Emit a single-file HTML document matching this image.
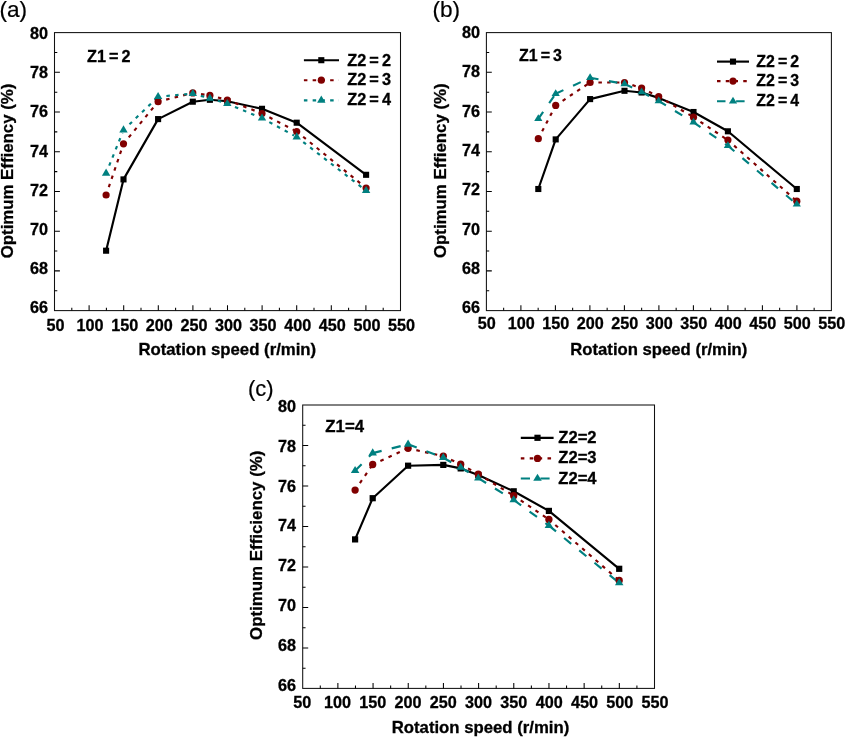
<!DOCTYPE html>
<html><head><meta charset="utf-8"><title>Optimum efficiency vs rotation speed</title>
<style>
html,body{margin:0;padding:0;background:#fff;}
body{width:846px;height:737px;overflow:hidden;}
svg{display:block;will-change:transform;filter:contrast(1);}
text{font-family:"Liberation Sans",sans-serif;fill:#000;font-variant-ligatures:none;font-kerning:none;}
.b{font-weight:bold;stroke:#000;stroke-width:0.3px;}
</style></head><body>
<svg width="846" height="737" viewBox="0 0 846 737">
<rect width="846" height="737" fill="#fff"/>
<rect x="54.5" y="32.6" width="346.00" height="278.00" fill="none" stroke="#111" stroke-width="1.05"/>
<path d="M71.80 310.6v-2.80 M89.10 310.6v-5.40 M106.40 310.6v-2.80 M123.70 310.6v-5.40 M141.00 310.6v-2.80 M158.30 310.6v-5.40 M175.60 310.6v-2.80 M192.90 310.6v-5.40 M210.20 310.6v-2.80 M227.50 310.6v-5.40 M244.80 310.6v-2.80 M262.10 310.6v-5.40 M279.40 310.6v-2.80 M296.70 310.6v-5.40 M314.00 310.6v-2.80 M331.30 310.6v-5.40 M348.60 310.6v-2.80 M365.90 310.6v-5.40 M383.20 310.6v-2.80 M54.5 290.74h2.80 M54.5 270.89h5.40 M54.5 251.03h2.80 M54.5 231.17h5.40 M54.5 211.31h2.80 M54.5 191.46h5.40 M54.5 171.60h2.80 M54.5 151.74h5.40 M54.5 131.89h2.80 M54.5 112.03h5.40 M54.5 92.17h2.80 M54.5 72.31h5.40 M54.5 52.46h2.80" stroke="#000" stroke-width="1.05" fill="none"/>
<g class="b" font-size="16.2" text-anchor="middle">
<text x="55.50" y="330.8">50</text>
<text x="90.10" y="330.8">100</text>
<text x="124.70" y="330.8">150</text>
<text x="159.30" y="330.8">200</text>
<text x="193.90" y="330.8">250</text>
<text x="228.50" y="330.8">300</text>
<text x="263.10" y="330.8">350</text>
<text x="297.70" y="330.8">400</text>
<text x="332.30" y="330.8">450</text>
<text x="366.90" y="330.8">500</text>
<text x="401.50" y="330.8">550</text>
</g>
<g class="b" font-size="16.2" text-anchor="end">
<text x="47.9" y="39.00">80</text>
<text x="47.9" y="78.18">78</text>
<text x="47.9" y="117.36">76</text>
<text x="47.9" y="156.54">74</text>
<text x="47.9" y="195.72">72</text>
<text x="47.9" y="234.90">70</text>
<text x="47.9" y="274.08">68</text>
<text x="47.9" y="313.26">66</text>
</g>
<text x="227.3" y="354.7" text-anchor="middle" class="b" font-size="16.3" textLength="177.8" lengthAdjust="spacingAndGlyphs">Rotation speed (r/min)</text>
<text transform="translate(12.6 171) rotate(-90)" text-anchor="middle" class="b" font-size="16.4" textLength="174.6" lengthAdjust="spacingAndGlyphs">Optimum Effiency (%)</text>
<text x="-0.5" y="17.3" font-size="22.6" stroke="#000" stroke-width="0.2">(a)</text>
<text x="87" y="61.8" class="b" font-size="16.3" textLength="43.6" lengthAdjust="spacingAndGlyphs" word-spacing="-1.4">Z1 = 2</text>
<polyline points="106.1,250.7 123.5,179.4 158.1,119.1 192.8,101.7 209.9,99.8 227.3,101.2 262.0,108.8 296.7,122.7 366.1,174.8" fill="none" stroke="#000" stroke-width="2.15" stroke-linejoin="round"/>
<path d="M108.77 187.14L122.53 146.64" fill="none" stroke="#800000" stroke-width="2.15" stroke-dasharray="3.50 5.25"/><path d="M128.77 137.39L156.20 104.02" fill="none" stroke="#800000" stroke-width="2.15" stroke-dasharray="3.50 5.25"/><path d="M166.15 99.66L189.89 93.64" fill="none" stroke="#800000" stroke-width="2.15" stroke-dasharray="3.50 5.25"/><path d="M201.01 94.10L206.93 94.97" fill="none" stroke="#800000" stroke-width="2.15" stroke-dasharray="3.50 5.25"/><path d="M217.92 97.52L224.40 99.23" fill="none" stroke="#800000" stroke-width="2.15" stroke-dasharray="3.50 5.25"/><path d="M235.04 103.01L259.20 112.41" fill="none" stroke="#800000" stroke-width="2.15" stroke-dasharray="3.50 5.25"/><path d="M269.37 117.32L294.04 130.12" fill="none" stroke="#800000" stroke-width="2.15" stroke-dasharray="3.50 5.25"/><path d="M303.14 136.74L363.77 186.11" fill="none" stroke="#800000" stroke-width="2.15" stroke-dasharray="3.50 5.25"/>
<path d="M109.19 165.70L122.38 132.88" fill="none" stroke="#008080" stroke-width="2.15" stroke-dasharray="3.50 5.25"/><path d="M129.47 124.34L155.94 98.78" fill="none" stroke="#008080" stroke-width="2.15" stroke-dasharray="3.50 5.25"/><path d="M166.37 95.99L189.81 93.96" fill="none" stroke="#008080" stroke-width="2.15" stroke-dasharray="3.50 5.25"/><path d="M200.80 95.90L207.01 97.60" fill="none" stroke="#008080" stroke-width="2.15" stroke-dasharray="3.50 5.25"/><path d="M217.84 100.82L224.43 102.83" fill="none" stroke="#008080" stroke-width="2.15" stroke-dasharray="3.50 5.25"/><path d="M234.96 106.90L259.23 117.04" fill="none" stroke="#008080" stroke-width="2.15" stroke-dasharray="3.50 5.25"/><path d="M269.30 122.15L294.06 135.57" fill="none" stroke="#008080" stroke-width="2.15" stroke-dasharray="3.50 5.25"/><path d="M303.26 142.08L363.73 188.86" fill="none" stroke="#008080" stroke-width="2.15" stroke-dasharray="3.50 5.25"/>
<rect x="103.05" y="247.65" width="6.1" height="6.1" fill="#000"/>
<rect x="120.45" y="176.35" width="6.1" height="6.1" fill="#000"/>
<rect x="155.05" y="116.05" width="6.1" height="6.1" fill="#000"/>
<rect x="189.75" y="98.65" width="6.1" height="6.1" fill="#000"/>
<rect x="206.85" y="96.75" width="6.1" height="6.1" fill="#000"/>
<rect x="224.25" y="98.15" width="6.1" height="6.1" fill="#000"/>
<rect x="258.95" y="105.75" width="6.1" height="6.1" fill="#000"/>
<rect x="293.65" y="119.65" width="6.1" height="6.1" fill="#000"/>
<rect x="363.05" y="171.75" width="6.1" height="6.1" fill="#000"/>
<circle cx="106.10" cy="195.00" r="3.6" fill="#800000"/>
<circle cx="123.50" cy="143.80" r="3.6" fill="#800000"/>
<circle cx="158.10" cy="101.70" r="3.6" fill="#800000"/>
<circle cx="192.80" cy="92.90" r="3.6" fill="#800000"/>
<circle cx="209.90" cy="95.40" r="3.6" fill="#800000"/>
<circle cx="227.30" cy="100.00" r="3.6" fill="#800000"/>
<circle cx="262.00" cy="113.50" r="3.6" fill="#800000"/>
<circle cx="296.70" cy="131.50" r="3.6" fill="#800000"/>
<circle cx="366.10" cy="188.00" r="3.6" fill="#800000"/>
<path d="M106.10 168.60L110.30 175.80L101.90 175.80Z" fill="#008080"/>
<path d="M123.50 125.30L127.70 132.50L119.30 132.50Z" fill="#008080"/>
<path d="M158.10 91.90L162.30 99.10L153.90 99.10Z" fill="#008080"/>
<path d="M192.80 88.90L197.00 96.10L188.60 96.10Z" fill="#008080"/>
<path d="M209.90 93.60L214.10 100.80L205.70 100.80Z" fill="#008080"/>
<path d="M227.30 98.90L231.50 106.10L223.10 106.10Z" fill="#008080"/>
<path d="M262.00 113.40L266.20 120.60L257.80 120.60Z" fill="#008080"/>
<path d="M296.70 132.20L300.90 139.40L292.50 139.40Z" fill="#008080"/>
<path d="M366.10 185.90L370.30 193.10L361.90 193.10Z" fill="#008080"/>
<line x1="303.9" y1="60.2" x2="339" y2="60.2" stroke="#000" stroke-width="2.15"/>
<rect x="318.25" y="57.15" width="6.1" height="6.1" fill="#000"/>
<text x="347.2" y="65.6" class="b" font-size="16.4" textLength="43.8" lengthAdjust="spacingAndGlyphs" word-spacing="-1.4">Z2 = 2</text>
<line x1="303.9" y1="80.2" x2="339" y2="80.2" stroke="#800000" stroke-width="2.15" stroke-dasharray="3.50 5.25"/>
<circle cx="321.30" cy="80.20" r="3.6" fill="#800000"/>
<text x="347.2" y="85.4" class="b" font-size="16.4" textLength="43.8" lengthAdjust="spacingAndGlyphs" word-spacing="-1.4">Z2 = 3</text>
<line x1="303.9" y1="100.3" x2="339" y2="100.3" stroke="#008080" stroke-width="2.15" stroke-dasharray="3.50 5.25"/>
<path d="M321.30 95.50L325.50 102.70L317.10 102.70Z" fill="#008080"/>
<text x="347.2" y="105.3" class="b" font-size="16.4" textLength="43.8" lengthAdjust="spacingAndGlyphs" word-spacing="-1.4">Z2 = 4</text>
<rect x="486.4" y="32.6" width="345.00" height="278.00" fill="none" stroke="#111" stroke-width="1.05"/>
<path d="M503.65 310.6v-2.80 M520.90 310.6v-5.40 M538.15 310.6v-2.80 M555.40 310.6v-5.40 M572.65 310.6v-2.80 M589.90 310.6v-5.40 M607.15 310.6v-2.80 M624.40 310.6v-5.40 M641.65 310.6v-2.80 M658.90 310.6v-5.40 M676.15 310.6v-2.80 M693.40 310.6v-5.40 M710.65 310.6v-2.80 M727.90 310.6v-5.40 M745.15 310.6v-2.80 M762.40 310.6v-5.40 M779.65 310.6v-2.80 M796.90 310.6v-5.40 M814.15 310.6v-2.80 M486.4 290.74h2.80 M486.4 270.89h5.40 M486.4 251.03h2.80 M486.4 231.17h5.40 M486.4 211.31h2.80 M486.4 191.46h5.40 M486.4 171.60h2.80 M486.4 151.74h5.40 M486.4 131.89h2.80 M486.4 112.03h5.40 M486.4 92.17h2.80 M486.4 72.31h5.40 M486.4 52.46h2.80" stroke="#000" stroke-width="1.05" fill="none"/>
<g class="b" font-size="16.2" text-anchor="middle">
<text x="486.80" y="328.7">50</text>
<text x="521.30" y="328.7">100</text>
<text x="555.80" y="328.7">150</text>
<text x="590.30" y="328.7">200</text>
<text x="624.80" y="328.7">250</text>
<text x="659.30" y="328.7">300</text>
<text x="693.80" y="328.7">350</text>
<text x="728.30" y="328.7">400</text>
<text x="762.80" y="328.7">450</text>
<text x="797.30" y="328.7">500</text>
<text x="831.80" y="328.7">550</text>
</g>
<g class="b" font-size="16.2" text-anchor="end">
<text x="480.1" y="38.00">80</text>
<text x="480.1" y="77.32">78</text>
<text x="480.1" y="116.64">76</text>
<text x="480.1" y="155.96">74</text>
<text x="480.1" y="195.28">72</text>
<text x="480.1" y="234.60">70</text>
<text x="480.1" y="273.92">68</text>
<text x="480.1" y="313.24">66</text>
</g>
<text x="658.8" y="354.5" text-anchor="middle" class="b" font-size="16.3" textLength="177.0" lengthAdjust="spacingAndGlyphs">Rotation speed (r/min)</text>
<text transform="translate(446.2 170.7) rotate(-90)" text-anchor="middle" class="b" font-size="16.4" textLength="174.6" lengthAdjust="spacingAndGlyphs">Optimum Effiency (%)</text>
<text x="432.4" y="17.3" font-size="22.6" stroke="#000" stroke-width="0.2">(b)</text>
<text x="519" y="61" class="b" font-size="16.3" textLength="43" lengthAdjust="spacingAndGlyphs" word-spacing="-1.4">Z1 = 3</text>
<polyline points="538.3,189.0 555.7,139.4 590.1,99.1 624.5,90.8 641.6,92.5 658.7,97.9 693.5,112.0 727.9,131.3 796.8,189.0" fill="none" stroke="#000" stroke-width="2.15" stroke-linejoin="round"/>
<path d="M542.14 131.34L554.31 108.06" fill="none" stroke="#800000" stroke-width="2.15" stroke-dasharray="3.50 5.25"/><path d="M562.61 100.80L587.60 84.16" fill="none" stroke="#800000" stroke-width="2.15" stroke-dasharray="3.50 5.25"/><path d="M598.40 82.50L621.50 82.50" fill="none" stroke="#800000" stroke-width="2.15" stroke-dasharray="3.50 5.25"/><path d="M632.39 85.08L638.75 87.17" fill="none" stroke="#800000" stroke-width="2.15" stroke-dasharray="3.50 5.25"/><path d="M649.03 91.79L656.01 95.26" fill="none" stroke="#800000" stroke-width="2.15" stroke-dasharray="3.50 5.25"/><path d="M665.84 100.83L690.92 115.67" fill="none" stroke="#800000" stroke-width="2.15" stroke-dasharray="3.50 5.25"/><path d="M700.41 121.80L725.40 138.44" fill="none" stroke="#800000" stroke-width="2.15" stroke-dasharray="3.50 5.25"/><path d="M734.11 145.61L794.56 199.21" fill="none" stroke="#800000" stroke-width="2.15" stroke-dasharray="3.50 5.25"/>
<path d="M538.30 118.80L555.70 93.70" fill="none" stroke="#008080" stroke-width="2.15" stroke-dasharray="8.50 10.60"/><path d="M555.70 93.70L590.10 77.80" fill="none" stroke="#008080" stroke-width="2.15" stroke-dasharray="8.50 10.60"/><path d="M590.10 77.80L624.50 83.90" fill="none" stroke="#008080" stroke-width="2.15" stroke-dasharray="8.50 10.60"/><path d="M624.50 83.90L641.60 92.00" fill="none" stroke="#008080" stroke-width="2.15" stroke-dasharray="8.50 10.60"/><path d="M641.60 92.00L658.70 101.00" fill="none" stroke="#008080" stroke-width="2.15" stroke-dasharray="8.50 10.60"/><path d="M658.70 101.00L693.50 122.30" fill="none" stroke="#008080" stroke-width="2.15" stroke-dasharray="8.50 10.60"/><path d="M693.50 122.30L727.90 145.70" fill="none" stroke="#008080" stroke-width="2.15" stroke-dasharray="8.50 10.60"/><path d="M727.90 145.70L796.80 204.30" fill="none" stroke="#008080" stroke-width="2.15" stroke-dasharray="8.50 10.60"/>
<rect x="535.25" y="185.95" width="6.1" height="6.1" fill="#000"/>
<rect x="552.65" y="136.35" width="6.1" height="6.1" fill="#000"/>
<rect x="587.05" y="96.05" width="6.1" height="6.1" fill="#000"/>
<rect x="621.45" y="87.75" width="6.1" height="6.1" fill="#000"/>
<rect x="638.55" y="89.45" width="6.1" height="6.1" fill="#000"/>
<rect x="655.65" y="94.85" width="6.1" height="6.1" fill="#000"/>
<rect x="690.45" y="108.95" width="6.1" height="6.1" fill="#000"/>
<rect x="724.85" y="128.25" width="6.1" height="6.1" fill="#000"/>
<rect x="793.75" y="185.95" width="6.1" height="6.1" fill="#000"/>
<circle cx="538.30" cy="138.70" r="3.6" fill="#800000"/>
<circle cx="555.70" cy="105.40" r="3.6" fill="#800000"/>
<circle cx="590.10" cy="82.50" r="3.6" fill="#800000"/>
<circle cx="624.50" cy="82.50" r="3.6" fill="#800000"/>
<circle cx="641.60" cy="88.10" r="3.6" fill="#800000"/>
<circle cx="658.70" cy="96.60" r="3.6" fill="#800000"/>
<circle cx="693.50" cy="117.20" r="3.6" fill="#800000"/>
<circle cx="727.90" cy="140.10" r="3.6" fill="#800000"/>
<circle cx="796.80" cy="201.20" r="3.6" fill="#800000"/>
<path d="M538.30 114.27L542.40 121.07L534.20 121.07Z" fill="#008080"/>
<path d="M555.70 89.17L559.80 95.97L551.60 95.97Z" fill="#008080"/>
<path d="M590.10 73.27L594.20 80.07L586.00 80.07Z" fill="#008080"/>
<path d="M624.50 79.37L628.60 86.17L620.40 86.17Z" fill="#008080"/>
<path d="M641.60 87.47L645.70 94.27L637.50 94.27Z" fill="#008080"/>
<path d="M658.70 96.47L662.80 103.27L654.60 103.27Z" fill="#008080"/>
<path d="M693.50 117.77L697.60 124.57L689.40 124.57Z" fill="#008080"/>
<path d="M727.90 141.17L732.00 147.97L723.80 147.97Z" fill="#008080"/>
<path d="M796.80 199.77L800.90 206.57L792.70 206.57Z" fill="#008080"/>
<line x1="717.0" y1="61.6" x2="749.0" y2="61.6" stroke="#000" stroke-width="2.15"/>
<rect x="729.95" y="58.55" width="6.1" height="6.1" fill="#000"/>
<text x="756.3" y="66.8" class="b" font-size="16.4" textLength="42.8" lengthAdjust="spacingAndGlyphs" word-spacing="-1.4">Z2 = 2</text>
<line x1="717.0" y1="81.1" x2="749.0" y2="81.1" stroke="#800000" stroke-width="2.15" stroke-dasharray="3.50 5.25"/>
<circle cx="733.00" cy="81.10" r="3.6" fill="#800000"/>
<text x="756.3" y="86.2" class="b" font-size="16.4" textLength="42.8" lengthAdjust="spacingAndGlyphs" word-spacing="-1.4">Z2 = 3</text>
<line x1="717.0" y1="101.2" x2="749.0" y2="101.2" stroke="#008080" stroke-width="2.15" stroke-dasharray="8.50 10.60"/>
<path d="M733.00 96.67L737.10 103.47L728.90 103.47Z" fill="#008080"/>
<text x="756.3" y="106.0" class="b" font-size="16.4" textLength="42.8" lengthAdjust="spacingAndGlyphs" word-spacing="-1.4">Z2 = 4</text>
<rect x="302.7" y="405.0" width="351.80" height="283.40" fill="none" stroke="#111" stroke-width="1.05"/>
<path d="M320.29 688.4v-2.85 M337.88 688.4v-5.50 M355.47 688.4v-2.85 M373.06 688.4v-5.50 M390.65 688.4v-2.85 M408.24 688.4v-5.50 M425.83 688.4v-2.85 M443.42 688.4v-5.50 M461.01 688.4v-2.85 M478.60 688.4v-5.50 M496.19 688.4v-2.85 M513.78 688.4v-5.50 M531.37 688.4v-2.85 M548.96 688.4v-5.50 M566.55 688.4v-2.85 M584.14 688.4v-5.50 M601.73 688.4v-2.85 M619.32 688.4v-5.50 M636.91 688.4v-2.85 M302.7 668.16h2.85 M302.7 647.91h5.50 M302.7 627.67h2.85 M302.7 607.43h5.50 M302.7 587.19h2.85 M302.7 566.94h5.50 M302.7 546.70h2.85 M302.7 526.46h5.50 M302.7 506.21h2.85 M302.7 485.97h5.50 M302.7 465.73h2.85 M302.7 445.49h5.50 M302.7 425.24h2.85" stroke="#000" stroke-width="1.05" fill="none"/>
<g class="b" font-size="16.2" text-anchor="middle">
<text x="302.20" y="707.5">50</text>
<text x="337.48" y="707.5">100</text>
<text x="372.76" y="707.5">150</text>
<text x="408.04" y="707.5">200</text>
<text x="443.32" y="707.5">250</text>
<text x="478.60" y="707.5">300</text>
<text x="513.88" y="707.5">350</text>
<text x="549.16" y="707.5">400</text>
<text x="584.44" y="707.5">450</text>
<text x="619.72" y="707.5">500</text>
<text x="655.00" y="707.5">550</text>
</g>
<g class="b" font-size="16.2" text-anchor="end">
<text x="296.1" y="411.60">80</text>
<text x="296.1" y="451.55">78</text>
<text x="296.1" y="491.50">76</text>
<text x="296.1" y="531.45">74</text>
<text x="296.1" y="571.40">72</text>
<text x="296.1" y="611.35">70</text>
<text x="296.1" y="651.30">68</text>
<text x="296.1" y="691.25">66</text>
</g>
<text x="480.5" y="732.7" text-anchor="middle" class="b" font-size="16.1" textLength="177.6" lengthAdjust="spacingAndGlyphs">Rotation speed (r/min)</text>
<text transform="translate(261.7 545.3) rotate(-90)" text-anchor="middle" class="b" font-size="16.4" textLength="189.4" lengthAdjust="spacingAndGlyphs">Optimum Efficiency (%)</text>
<text x="248" y="395.9" font-size="22" stroke="#000" stroke-width="0.2">(c)</text>
<text x="325.3" y="431.5" class="b" font-size="15.9" textLength="38.8" lengthAdjust="spacingAndGlyphs" >Z1=4</text>
<polyline points="355.1,539.4 372.7,498.2 408.1,465.7 443.3,464.9 460.7,468.4 478.3,475.0 513.7,491.3 548.9,510.9 619.2,568.8" fill="none" stroke="#000" stroke-width="2.15" stroke-linejoin="round"/>
<path d="M359.89 483.14L370.97 467.02" fill="none" stroke="#800000" stroke-width="2.15" stroke-dasharray="3.56 5.34"/><path d="M380.38 460.98L405.32 449.57" fill="none" stroke="#800000" stroke-width="2.15" stroke-dasharray="3.56 5.34"/><path d="M416.34 450.15L440.32 455.53" fill="none" stroke="#800000" stroke-width="2.15" stroke-dasharray="3.56 5.34"/><path d="M450.98 459.73L457.93 462.92" fill="none" stroke="#800000" stroke-width="2.15" stroke-dasharray="3.56 5.34"/><path d="M468.05 468.37L475.64 472.69" fill="none" stroke="#800000" stroke-width="2.15" stroke-dasharray="3.56 5.34"/><path d="M485.52 478.59L511.09 494.11" fill="none" stroke="#800000" stroke-width="2.15" stroke-dasharray="3.56 5.34"/><path d="M520.71 500.42L546.37 517.69" fill="none" stroke="#800000" stroke-width="2.15" stroke-dasharray="3.56 5.34"/><path d="M555.28 524.94L616.89 578.50" fill="none" stroke="#800000" stroke-width="2.15" stroke-dasharray="3.56 5.34"/>
<path d="M355.10 470.70L372.70 453.10" fill="none" stroke="#008080" stroke-width="2.15" stroke-dasharray="9.20 10.40"/><path d="M372.70 453.10L408.10 444.30" fill="none" stroke="#008080" stroke-width="2.15" stroke-dasharray="9.20 10.40"/><path d="M408.10 444.30L443.30 457.70" fill="none" stroke="#008080" stroke-width="2.15" stroke-dasharray="9.20 10.40"/><path d="M443.30 457.70L460.70 467.50" fill="none" stroke="#008080" stroke-width="2.15" stroke-dasharray="9.20 10.40"/><path d="M460.70 467.50L478.30 478.20" fill="none" stroke="#008080" stroke-width="2.15" stroke-dasharray="9.20 10.40"/><path d="M478.30 478.20L513.70 500.00" fill="none" stroke="#008080" stroke-width="2.15" stroke-dasharray="9.20 10.40"/><path d="M513.70 500.00L548.90 525.60" fill="none" stroke="#008080" stroke-width="2.15" stroke-dasharray="9.20 10.40"/><path d="M548.90 525.60L619.20 583.00" fill="none" stroke="#008080" stroke-width="2.15" stroke-dasharray="9.20 10.40"/>
<rect x="352.00" y="536.30" width="6.2" height="6.2" fill="#000"/>
<rect x="369.60" y="495.10" width="6.2" height="6.2" fill="#000"/>
<rect x="405.00" y="462.60" width="6.2" height="6.2" fill="#000"/>
<rect x="440.20" y="461.80" width="6.2" height="6.2" fill="#000"/>
<rect x="457.60" y="465.30" width="6.2" height="6.2" fill="#000"/>
<rect x="475.20" y="471.90" width="6.2" height="6.2" fill="#000"/>
<rect x="510.60" y="488.20" width="6.2" height="6.2" fill="#000"/>
<rect x="545.80" y="507.80" width="6.2" height="6.2" fill="#000"/>
<rect x="616.10" y="565.70" width="6.2" height="6.2" fill="#000"/>
<circle cx="355.10" cy="490.10" r="3.65" fill="#800000"/>
<circle cx="372.70" cy="464.50" r="3.65" fill="#800000"/>
<circle cx="408.10" cy="448.30" r="3.65" fill="#800000"/>
<circle cx="443.30" cy="456.20" r="3.65" fill="#800000"/>
<circle cx="460.70" cy="464.20" r="3.65" fill="#800000"/>
<circle cx="478.30" cy="474.20" r="3.65" fill="#800000"/>
<circle cx="513.70" cy="495.70" r="3.65" fill="#800000"/>
<circle cx="548.90" cy="519.40" r="3.65" fill="#800000"/>
<circle cx="619.20" cy="580.50" r="3.65" fill="#800000"/>
<path d="M355.10 465.97L359.35 473.07L350.85 473.07Z" fill="#008080"/>
<path d="M372.70 448.37L376.95 455.47L368.45 455.47Z" fill="#008080"/>
<path d="M408.10 439.57L412.35 446.67L403.85 446.67Z" fill="#008080"/>
<path d="M443.30 452.97L447.55 460.07L439.05 460.07Z" fill="#008080"/>
<path d="M460.70 462.77L464.95 469.87L456.45 469.87Z" fill="#008080"/>
<path d="M478.30 473.47L482.55 480.57L474.05 480.57Z" fill="#008080"/>
<path d="M513.70 495.27L517.95 502.37L509.45 502.37Z" fill="#008080"/>
<path d="M548.90 520.87L553.15 527.97L544.65 527.97Z" fill="#008080"/>
<path d="M619.20 578.27L623.45 585.37L614.95 585.37Z" fill="#008080"/>
<line x1="520.8" y1="437.8" x2="553.6" y2="437.8" stroke="#000" stroke-width="2.15"/>
<rect x="534.40" y="434.70" width="6.2" height="6.2" fill="#000"/>
<text x="558.3" y="442.8" class="b" font-size="16" textLength="38.3" lengthAdjust="spacingAndGlyphs" >Z2=2</text>
<line x1="520.8" y1="458.4" x2="553.6" y2="458.4" stroke="#800000" stroke-width="2.15" stroke-dasharray="3.56 5.34"/>
<circle cx="537.50" cy="458.40" r="3.65" fill="#800000"/>
<text x="558.3" y="463.4" class="b" font-size="16" textLength="38.3" lengthAdjust="spacingAndGlyphs" >Z2=3</text>
<line x1="520.8" y1="478.5" x2="553.6" y2="478.5" stroke="#008080" stroke-width="2.15" stroke-dasharray="9.20 10.40"/>
<path d="M537.50 473.77L541.75 480.87L533.25 480.87Z" fill="#008080"/>
<text x="558.3" y="483.5" class="b" font-size="16" textLength="38.3" lengthAdjust="spacingAndGlyphs" >Z2=4</text>
</svg>
</body></html>
